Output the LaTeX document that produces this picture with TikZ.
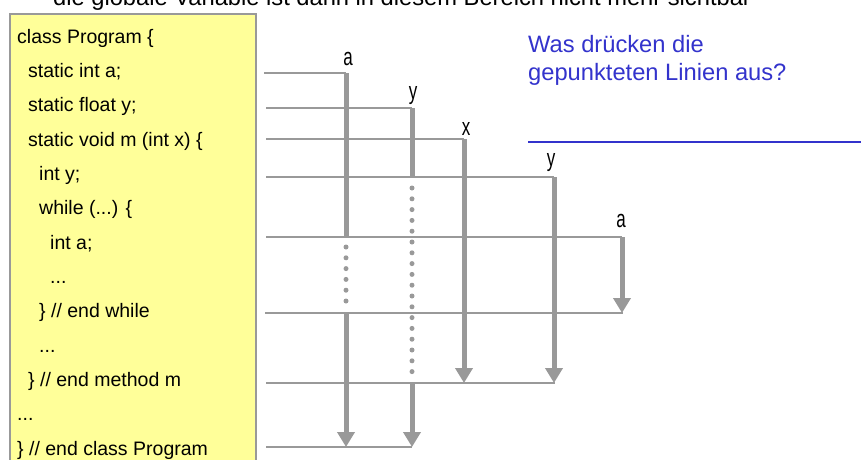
\documentclass[tikz,border=0pt]{standalone}
\usepackage{fontspec}
\setmainfont{Liberation Sans}
\usetikzlibrary{arrows.meta}
\definecolor{linegray}{RGB}{153,153,153}
\definecolor{codeyellow}{RGB}{255,255,153}
\definecolor{askblue}{RGB}{51,51,204}

\begin{document}
\begin{tikzpicture}[x=1pt,y=-1pt,
  code/.style={anchor=base west, inner sep=0pt, font=\fontsize{19.5}{20}\selectfont},
  varname/.style={anchor=base, inner sep=0pt, font=\fontsize{17}{17}\selectfont, yscale=1.45},
  bigtext/.style={anchor=base west, inner sep=0pt, font=\fontsize{23.7}{28}\selectfont},
  scopeline/.style={linegray, line width=2.5pt},
  lifetime/.style={linegray, line width=5pt},
  lifearrow/.style={lifetime, -{Triangle[width=17pt,length=15pt]}},
  hidden/.style={linegray, line width=5pt, line cap=round, dash pattern=on 0pt off 10.8pt}]
  \clip (0,0) rectangle (861,459);
  % heading, cut off at the top
  \node[bigtext] (head) at (53,5) {die globale Variable ist dann in diesem Bereich nicht mehr sichtbar};
  % code box
  \draw[linegray, line width=2.5pt, fill=codeyellow] (10,14) rectangle (256,475);
  \node[code] (cls)     at (17,43)    {class Program \{};
  \node[code] (ga)      at (28,77.3)  {static int a;};
  \node[code] (gy)      at (28,111.7) {static float y;};
  \node[code] (meth)    at (28,146)   {static void m (int x) \{};
  \node[code] (ly)      at (39,180.3) {int y;};
  \node[code] (loop)    at (39,214.7) {while (...) \{};
  \node[code] (la)      at (50,249)   {int a;};
  \node[code] (ldots)   at (50,283.3) {...};
  \node[code] (endloop) at (39,317.7) {\} // end while};
  \node[code] (mdots)   at (39,352)   {...};
  \node[code] (endmeth) at (28,386.3) {\} // end method m};
  \node[code] (cdots)   at (17,420.7) {...};
  \node[code] (endcls)  at (17,455)   {\} // end class Program};
  % start points of the scope lines
  \coordinate (s1) at (264,73);
  \coordinate (s2) at (266,108);
  \coordinate (s3) at (266,139);
  \coordinate (s4) at (266,177);
  \coordinate (s5) at (266,237);
  \coordinate (s6) at (265,313);
  \coordinate (s7) at (266,383);
  \coordinate (s8) at (266,447);
  % corners on the scope lines
  \coordinate (ga1) at (346,73);  \coordinate (ga2) at (346,237);
  \coordinate (ga3) at (346,313); \coordinate (ga4) at (346,447);
  \coordinate (gy1) at (412,108); \coordinate (gy2) at (412,177);
  \coordinate (gy3) at (412,383); \coordinate (gy4) at (412,447);
  \coordinate (px1) at (464,139); \coordinate (px2) at (464,383);
  \coordinate (ly1) at (554,177); \coordinate (ly2) at (554,383);
  \coordinate (la1) at (622,237); \coordinate (la2) at (622,313);
  \coordinate (e6) at (623,313);  \coordinate (e7) at (555,383);
  % scope lines
  \draw[scopeline] (s1) -- (ga1);
  \draw[scopeline] (s2) -- (gy1);
  \draw[scopeline] (s3) -- (px1);
  \draw[scopeline] (s4) -- (ly1);
  \draw[scopeline] (s5) -- (la1);
  \draw[scopeline] (s6) -- (e6);
  \draw[scopeline] (s7) -- (e7);
  \draw[scopeline] (s8) -- (gy4);
  % lifetimes
  \draw[lifetime] (ga1) -- (ga2);
  \draw[hidden] (346,247) -- (346,301);
  \draw[lifearrow] (ga3) -- (ga4);
  \draw[lifetime] (gy1) -- (gy2);
  \draw[hidden] (412,188) -- (412,372);
  \draw[lifearrow] (gy3) -- (gy4);
  \draw[lifearrow] (px1) -- (px2);
  \draw[lifearrow] (ly1) -- (ly2);
  \draw[lifearrow] (la1) -- (la2);
  % variable names
  \node[varname] (na1) at (348,65)  {a};
  \node[varname] (ny1) at (413,99)  {y};
  \node[varname] (nx)  at (466,135) {x};
  \node[varname] (ny2) at (551,166) {y};
  \node[varname] (na2) at (621,227) {a};
  % question
  \node[bigtext, askblue] (q1) at (528,52) {Was drücken die};
  \node[bigtext, askblue] (q2) at (528,80) {gepunkteten Linien aus?};
  \coordinate (u1) at (528,142);
  \coordinate (u2) at (861,142);
  \draw[askblue, line width=2pt] (u1) -- (u2);
\end{tikzpicture}
\end{document}
